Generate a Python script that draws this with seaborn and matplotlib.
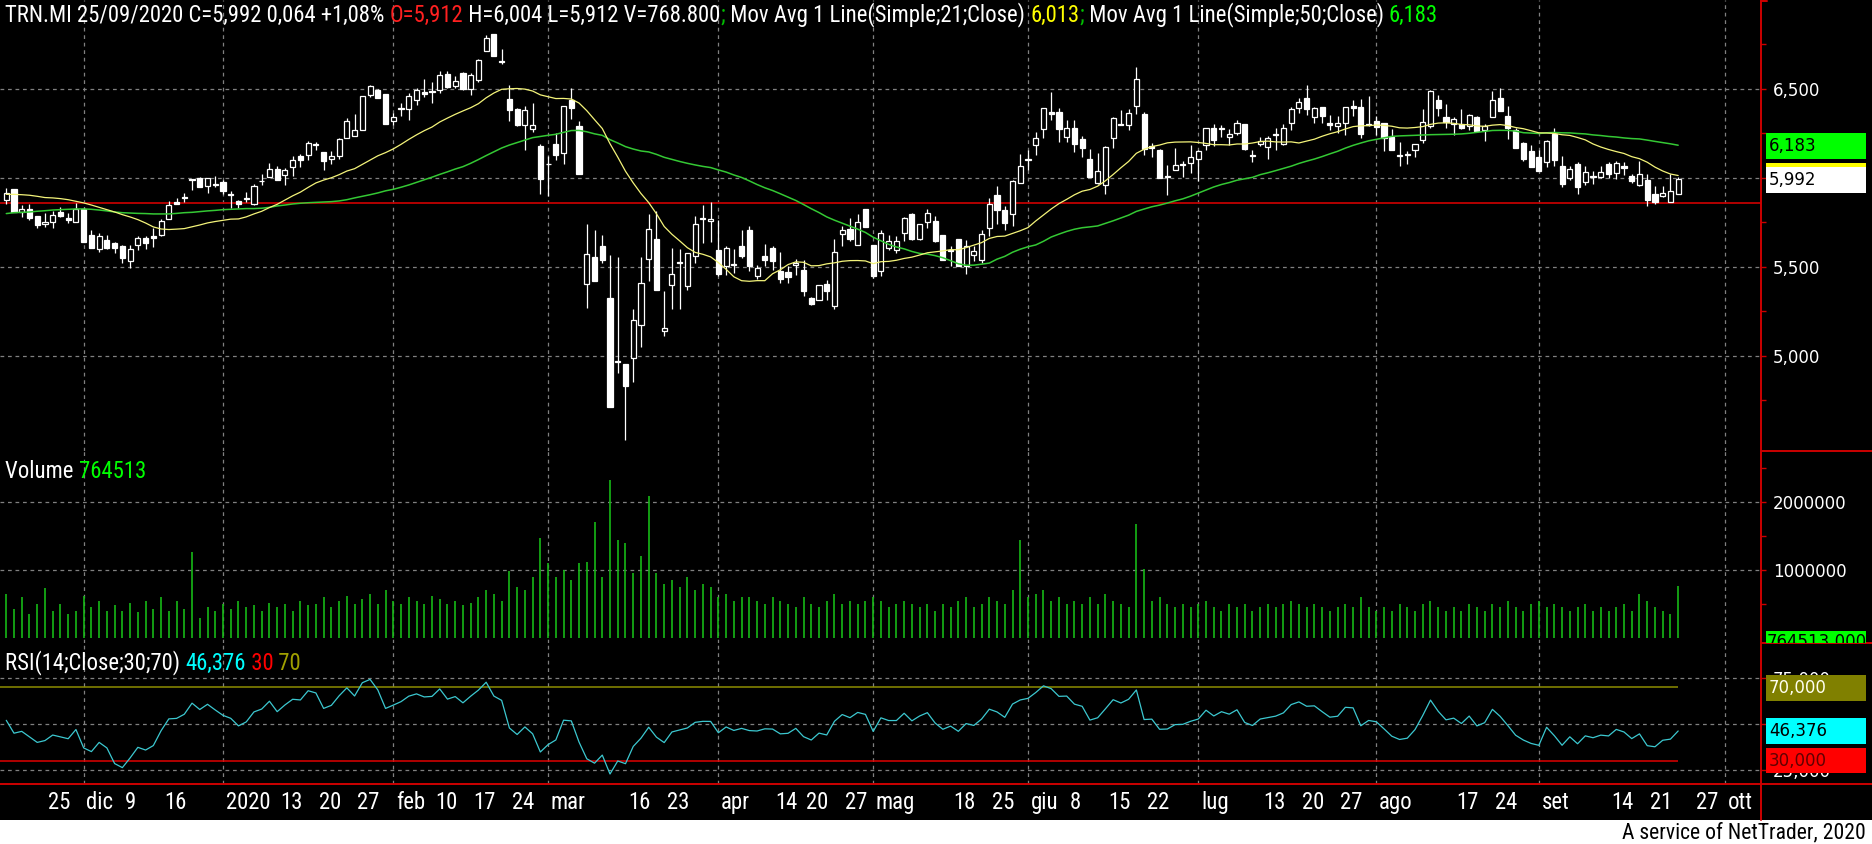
import numpy as np
import pandas as pd
import matplotlib
matplotlib.use("Agg")
import matplotlib.pyplot as plt
import seaborn as sns
from matplotlib.patches import Rectangle
from matplotlib.lines import Line2D
from matplotlib import font_manager as fm

sns.set_theme(style="dark")


def pick(fams):
    for f in fams:
        try:
            fm.findfont(fm.FontProperties(family=f), fallback_to_default=False)
            return f
        except Exception:
            continue
    return "DejaVu Sans"


NARROW = pick(["Liberation Sans Narrow", "Roboto Condensed", "DejaVu Sans"])
plt.rcParams["font.family"] = [NARROW, "DejaVu Sans"]
plt.rcParams["axes.unicode_minus"] = False

# ---------------- data ----------------
opens = [
    5.878, 5.938, 5.807, 5.826, 5.788, 5.740, 5.753, 5.807, 5.773, 5.753,
    5.828, 5.680, 5.601, 5.654, 5.635, 5.620, 5.534, 5.624, 5.663, 5.676,
    5.682, 5.770, 5.867, 5.892, 5.994, 5.998, 5.957, 5.968, 5.978, 5.912,
    5.873, 5.888, 5.854, 5.985, 6.006, 6.051, 6.017, 6.062, 6.122, 6.129,
    6.193, 6.146, 6.107, 6.122, 6.225, 6.234, 6.268, 6.468, 6.496, 6.474,
    6.320, 6.393, 6.388, 6.436, 6.481, 6.487, 6.496, 6.586, 6.515, 6.590,
    6.500, 6.549, 6.712, 6.811, 6.659, 6.444, 6.388, 6.300, 6.275, 6.182,
    6.080, 6.193, 6.140, 6.440, 6.294, 5.404, 5.556, 5.620, 5.326, 4.970,
    4.955, 4.989, 5.176, 5.545, 5.659, 5.139, 5.397, 5.528, 5.391, 5.564,
    5.777, 5.757, 5.597, 5.504, 5.517, 5.620, 5.710, 5.451, 5.564, 5.607,
    5.476, 5.474, 5.513, 5.485, 5.326, 5.317, 5.404, 5.283, 5.687, 5.713,
    5.624, 5.826, 5.624, 5.476, 5.607, 5.597, 5.691, 5.798, 5.657, 5.755,
    5.760, 5.682, 5.597, 5.657, 5.504, 5.569, 5.537, 5.719, 5.906, 5.818,
    5.798, 5.972, 6.107, 6.184, 6.277, 6.369, 6.369, 6.230, 6.281, 6.219,
    6.107, 5.972, 5.959, 6.227, 6.300, 6.300, 6.406, 6.360, 6.182, 6.159,
    6.009, 6.047, 6.080, 6.084, 6.107, 6.187, 6.281, 6.281, 6.230, 6.253,
    6.303, 6.131, 6.193, 6.174, 6.247, 6.193, 6.309, 6.393, 6.449, 6.341,
    6.399, 6.309, 6.294, 6.309, 6.403, 6.399, 6.305, 6.318, 6.309, 6.230,
    6.129, 6.137, 6.159, 6.215, 6.290, 6.440, 6.343, 6.305, 6.305, 6.294,
    6.343, 6.272, 6.343, 6.449, 6.350, 6.268, 6.197, 6.154, 6.118, 6.088,
    6.249, 6.066, 6.000, 6.081, 5.976, 6.013, 6.006, 6.081, 6.028, 6.069,
    6.013, 5.963, 5.987, 5.912, 5.897, 5.865, 5.912,
]
highs = [
    5.944, 5.938, 5.850, 5.856, 5.788, 5.803, 5.813, 5.837, 5.803, 5.860,
    5.837, 5.706, 5.691, 5.682, 5.639, 5.624, 5.625, 5.676, 5.676, 5.719,
    5.772, 5.873, 5.888, 5.916, 5.994, 6.006, 5.998, 6.009, 5.991, 5.925,
    5.878, 5.920, 5.966, 6.024, 6.084, 6.066, 6.056, 6.125, 6.133, 6.208,
    6.204, 6.146, 6.150, 6.225, 6.337, 6.361, 6.459, 6.524, 6.500, 6.474,
    6.365, 6.421, 6.478, 6.506, 6.556, 6.537, 6.599, 6.599, 6.571, 6.594,
    6.590, 6.669, 6.805, 6.811, 6.725, 6.524, 6.393, 6.406, 6.421, 6.193,
    6.125, 6.253, 6.403, 6.506, 6.318, 5.743, 5.706, 5.682, 5.569, 5.556,
    4.955, 5.264, 5.556, 5.800, 5.813, 5.363, 5.607, 5.601, 5.579, 5.788,
    5.850, 5.864, 5.762, 5.616, 5.601, 5.710, 5.732, 5.513, 5.631, 5.616,
    5.582, 5.504, 5.545, 5.541, 5.332, 5.401, 5.429, 5.657, 5.728, 5.775,
    5.800, 5.826, 5.624, 5.710, 5.682, 5.672, 5.781, 5.803, 5.743, 5.826,
    5.785, 5.682, 5.616, 5.657, 5.650, 5.616, 5.710, 5.888, 5.953, 5.841,
    5.991, 6.137, 6.155, 6.257, 6.391, 6.481, 6.393, 6.328, 6.328, 6.234,
    6.163, 6.140, 6.182, 6.343, 6.380, 6.388, 6.624, 6.373, 6.197, 6.163,
    6.075, 6.169, 6.094, 6.187, 6.159, 6.281, 6.305, 6.300, 6.275, 6.324,
    6.303, 6.159, 6.230, 6.238, 6.281, 6.305, 6.399, 6.449, 6.524, 6.399,
    6.399, 6.356, 6.350, 6.399, 6.436, 6.444, 6.459, 6.350, 6.309, 6.275,
    6.200, 6.154, 6.193, 6.388, 6.493, 6.468, 6.418, 6.343, 6.388, 6.361,
    6.346, 6.305, 6.487, 6.506, 6.406, 6.281, 6.204, 6.187, 6.159, 6.212,
    6.281, 6.122, 6.066, 6.088, 6.066, 6.037, 6.066, 6.088, 6.094, 6.088,
    6.024, 6.094, 6.024, 5.957, 5.957, 6.024, 6.004,
]
lows = [
    5.856, 5.807, 5.781, 5.766, 5.719, 5.725, 5.719, 5.781, 5.747, 5.753,
    5.639, 5.605, 5.582, 5.601, 5.579, 5.522, 5.494, 5.597, 5.601, 5.611,
    5.676, 5.770, 5.854, 5.864, 5.931, 5.948, 5.916, 5.948, 5.912, 5.831,
    5.831, 5.864, 5.848, 5.963, 6.006, 5.987, 5.961, 6.013, 6.060, 6.099,
    6.159, 6.047, 6.080, 6.107, 6.225, 6.234, 6.268, 6.455, 6.448, 6.301,
    6.300, 6.350, 6.324, 6.412, 6.455, 6.421, 6.478, 6.506, 6.506, 6.496,
    6.468, 6.541, 6.712, 6.687, 6.640, 6.318, 6.294, 6.159, 6.257, 5.912,
    5.897, 6.103, 6.080, 6.331, 6.022, 5.270, 5.419, 5.522, 4.713, 4.904,
    4.530, 4.852, 5.051, 5.419, 5.369, 5.110, 5.264, 5.264, 5.369, 5.522,
    5.635, 5.639, 5.448, 5.457, 5.466, 5.551, 5.476, 5.433, 5.504, 5.485,
    5.410, 5.410, 5.457, 5.339, 5.288, 5.313, 5.317, 5.264, 5.616, 5.644,
    5.624, 5.725, 5.438, 5.448, 5.597, 5.579, 5.644, 5.654, 5.654, 5.719,
    5.639, 5.537, 5.504, 5.504, 5.463, 5.532, 5.522, 5.676, 5.743, 5.706,
    5.732, 5.972, 6.047, 6.131, 6.225, 6.328, 6.200, 6.200, 6.144, 6.118,
    6.004, 5.968, 5.912, 6.169, 6.298, 6.272, 6.361, 6.131, 6.118, 6.000,
    5.906, 6.047, 6.004, 6.028, 5.981, 6.159, 6.182, 6.230, 6.187, 6.243,
    6.159, 6.088, 6.178, 6.107, 6.159, 6.185, 6.268, 6.365, 6.356, 6.309,
    6.309, 6.272, 6.253, 6.243, 6.350, 6.225, 6.294, 6.243, 6.150, 6.155,
    6.066, 6.079, 6.118, 6.197, 6.281, 6.350, 6.281, 6.243, 6.275, 6.268,
    6.257, 6.206, 6.343, 6.375, 6.219, 6.169, 6.094, 6.062, 6.037, 6.062,
    6.069, 5.949, 5.987, 5.912, 5.963, 5.968, 6.000, 6.000, 5.994, 6.019,
    5.972, 5.957, 5.841, 5.856, 5.893, 5.865, 5.912,
]
closes = [
    5.916, 5.807, 5.826, 5.775, 5.736, 5.755, 5.794, 5.785, 5.766, 5.828,
    5.639, 5.605, 5.672, 5.609, 5.605, 5.549, 5.601, 5.663, 5.635, 5.661,
    5.757, 5.850, 5.854, 5.888, 5.990, 5.948, 5.998, 5.961, 5.925, 5.905,
    5.852, 5.880, 5.957, 5.981, 6.051, 5.987, 6.047, 6.103, 6.099, 6.197,
    6.185, 6.094, 6.122, 6.219, 6.318, 6.268, 6.459, 6.519, 6.448, 6.301,
    6.343, 6.388, 6.463, 6.496, 6.474, 6.481, 6.581, 6.511, 6.543, 6.500,
    6.579, 6.661, 6.787, 6.687, 6.654, 6.384, 6.300, 6.384, 6.296, 5.994,
    6.077, 6.131, 6.403, 6.393, 6.022, 5.573, 5.419, 5.541, 4.713, 4.964,
    4.830, 5.204, 5.410, 5.714, 5.369, 5.157, 5.461, 5.522, 5.579, 5.743,
    5.772, 5.770, 5.461, 5.607, 5.511, 5.560, 5.504, 5.494, 5.537, 5.532,
    5.433, 5.442, 5.522, 5.363, 5.294, 5.397, 5.363, 5.582, 5.706, 5.657,
    5.753, 5.725, 5.448, 5.691, 5.644, 5.644, 5.775, 5.657, 5.743, 5.803,
    5.646, 5.541, 5.590, 5.504, 5.620, 5.592, 5.687, 5.854, 5.818, 5.747,
    5.981, 6.066, 6.099, 6.225, 6.391, 6.360, 6.275, 6.281, 6.193, 6.169,
    6.004, 6.037, 6.172, 6.335, 6.298, 6.365, 6.556, 6.163, 6.170, 6.000,
    6.004, 6.071, 6.075, 6.118, 6.150, 6.281, 6.212, 6.275, 6.247, 6.309,
    6.163, 6.125, 6.206, 6.225, 6.242, 6.281, 6.388, 6.425, 6.388, 6.393,
    6.346, 6.300, 6.309, 6.399, 6.395, 6.249, 6.298, 6.287, 6.225, 6.155,
    6.122, 6.131, 6.193, 6.313, 6.487, 6.393, 6.313, 6.331, 6.281, 6.356,
    6.262, 6.294, 6.440, 6.375, 6.281, 6.169, 6.107, 6.062, 6.037, 6.206,
    6.103, 5.966, 6.052, 5.949, 6.032, 6.006, 6.032, 6.022, 6.084, 6.056,
    5.981, 6.022, 5.878, 5.863, 5.916, 5.925, 5.992,
]
volumes_m = [
    0.65, 0.42, 0.60, 0.35, 0.50, 0.74, 0.40, 0.50, 0.36, 0.40,
    0.62, 0.45, 0.55, 0.40, 0.48, 0.40, 0.52, 0.38, 0.55, 0.42,
    0.60, 0.40, 0.55, 0.42, 1.26, 0.30, 0.45, 0.40, 0.50, 0.42,
    0.55, 0.45, 0.48, 0.40, 0.52, 0.45, 0.50, 0.40, 0.55, 0.48,
    0.50, 0.60, 0.45, 0.55, 0.62, 0.50, 0.58, 0.65, 0.50, 0.70,
    0.55, 0.50, 0.60, 0.55, 0.50, 0.62, 0.58, 0.50, 0.55, 0.48,
    0.52, 0.60, 0.70, 0.65, 0.55, 0.98, 0.75, 0.70, 0.90, 1.47,
    1.10, 0.90, 1.00, 0.85, 1.10, 1.12, 1.70, 0.90, 2.33, 1.44,
    1.39, 0.95, 1.20, 2.09, 0.95, 0.80, 0.85, 0.75, 0.90, 0.70,
    0.80, 0.75, 0.60, 0.65, 0.55, 0.60, 0.60, 0.55, 0.50, 0.60,
    0.55, 0.50, 0.45, 0.60, 0.50, 0.45, 0.55, 0.65, 0.50, 0.55,
    0.50, 0.55, 0.60, 0.55, 0.45, 0.50, 0.55, 0.50, 0.45, 0.50,
    0.40, 0.50, 0.45, 0.55, 0.60, 0.45, 0.50, 0.60, 0.55, 0.50,
    0.70, 1.44, 0.60, 0.65, 0.70, 0.55, 0.60, 0.50, 0.55, 0.50,
    0.60, 0.50, 0.65, 0.55, 0.50, 0.45, 1.68, 1.02, 0.55, 0.60,
    0.50, 0.45, 0.50, 0.45, 0.50, 0.55, 0.45, 0.40, 0.50, 0.45,
    0.50, 0.40, 0.45, 0.50, 0.45, 0.50, 0.55, 0.50, 0.45, 0.50,
    0.45, 0.40, 0.45, 0.50, 0.45, 0.60, 0.45, 0.40, 0.45, 0.40,
    0.50, 0.45, 0.40, 0.50, 0.55, 0.45, 0.40, 0.45, 0.40, 0.50,
    0.45, 0.40, 0.50, 0.45, 0.55, 0.45, 0.40, 0.50, 0.55, 0.45,
    0.50, 0.45, 0.40, 0.45, 0.50, 0.40, 0.45, 0.40, 0.45, 0.50,
    0.40, 0.65, 0.55, 0.45, 0.40, 0.35, 0.764513,
]
# moving averages / RSI before their look-back windows are full
ma21_head = [5.908, 5.908, 5.906, 5.903, 5.897, 5.890, 5.888, 5.884, 5.878, 5.869,
             5.860, 5.848, 5.835, 5.822, 5.809, 5.794, 5.781, 5.766, 5.747, 5.725]
ma50_head = [5.800, 5.805, 5.807, 5.809, 5.813, 5.816, 5.820, 5.822, 5.824, 5.826,
             5.826, 5.824, 5.820, 5.815, 5.809, 5.805, 5.803, 5.801, 5.800, 5.798,
             5.798, 5.798, 5.801, 5.805, 5.807, 5.811, 5.815, 5.818, 5.822, 5.824,
             5.826, 5.828, 5.828, 5.830, 5.835, 5.843, 5.848, 5.854, 5.858, 5.861,
             5.863, 5.865, 5.867, 5.871, 5.878, 5.888, 5.897, 5.906, 5.916]
rsi_head = [52, 45, 46, 43, 40, 41, 44, 43, 42, 47, 37, 35, 40, 37]
support_level = 5.861

tick_labels = ["25", "dic", "9", "16", "2020", "13", "20", "27", "feb", "10", "17", "24",
               "mar", "16", "23", "apr", "14", "20", "27", "mag", "18", "25", "giu", "8",
               "15", "22", "lug", "13", "20", "27", "ago", "17", "24", "set", "14", "21",
               "27", "ott"]
tick_pos = [5, 10, 15, 20, 28, 35, 40, 45, 50, 55, 60, 65, 70, 80, 85, 92, 99, 103, 108,
            112, 122, 127, 132, 137, 142, 147, 154, 162, 167, 172, 177, 187, 192, 198,
            207, 212, 218, 222]
month_labels = {"dic", "2020", "feb", "mar", "apr", "mag", "giu", "lug", "ago", "set", "ott"}

price_ticks = [5.0, 5.5, 6.0, 6.5]
price_tick_text = ["5,000", "5,500", "", "6,500"]   # 6,000 is hidden by the value boxes
volume_ticks = [1000000, 2000000]
rsi_ticks = [25, 50, 75]

# ---------------- derived series ----------------
n = len(closes)
O = np.array(opens); Hh = np.array(highs); L = np.array(lows); C = np.array(closes)
V = np.array(volumes_m) * 1e6
xs = np.arange(n)

cs = pd.Series(C)
ma21 = cs.rolling(21).mean().to_numpy()
ma21[:20] = ma21_head
ma50 = cs.rolling(50).mean().to_numpy()
ma50[:49] = ma50_head

d = np.diff(C)
g = np.clip(d, 0, None)
lo = np.clip(-d, 0, None)
p = 14
rsi = np.full(n, np.nan)
rsi[:p] = rsi_head
ag = g[:p].mean(); al = lo[:p].mean()
rsi[p] = 100 - 100 / (1 + ag / al)
for t in range(p + 1, n):
    ag = (ag * (p - 1) + g[t - 1]) / p
    al = (al * (p - 1) + lo[t - 1]) / p
    rsi[t] = 100 - 100 / (1 + ag / al)

df = pd.DataFrame({"x": xs, "ma21": ma21, "ma50": ma50, "rsi": rsi})

# ---------------- figure ----------------
W, H = 1872, 844
RED = "#cc0000"
GRID = "#808080"
fig = plt.figure(figsize=(W / 100, H / 100), dpi=100, facecolor="black")


def rect(y0, y1):
    return [0, 1 - y1 / H, 1761 / W, (y1 - y0) / H]


ax_p = fig.add_axes(rect(0, 451))
ax_v = fig.add_axes(rect(451, 643), sharex=ax_p)
ax_r = fig.add_axes(rect(643, 784), sharex=ax_p)

XMIN, XMAX = -0.81, 226.7
for ax in (ax_p, ax_v, ax_r):
    ax.set_facecolor("black")
    for s in ax.spines.values():
        s.set_visible(False)
    ax.grid(False)
    for m, lab in zip(tick_pos, tick_labels):
        if lab in month_labels:
            ax.axvline(m, color=GRID, lw=0.9, ls=(0, (3, 3)), zorder=1)
ax_p.set_xlim(XMIN, XMAX)
ax_p.set_ylim(4.466, 7.0)
ax_v.set_ylim(-0.0735e6, 2.75e6)
ax_r.set_ylim(17.4, 94.0)

for v in price_ticks:
    ax_p.axhline(v, color=GRID, lw=0.9, ls=(0, (3, 3)), zorder=1)
for v in volume_ticks:
    ax_v.axhline(v, color=GRID, lw=0.9, ls=(0, (3, 3)), zorder=1)
for v in rsi_ticks:
    ax_r.axhline(v, color=GRID, lw=0.9, ls=(0, (3, 3)), zorder=1)

# support line
ax_p.axhline(support_level, color="#c00000", lw=1.3, zorder=2)

# candles
up = C >= O
ax_p.vlines(xs, L, Hh, color="white", lw=0.9, zorder=3)
blo = np.minimum(O, C)
bh = np.maximum(np.abs(C - O), 0.004)
ax_p.bar(xs[up], bh[up], bottom=blo[up], width=0.66, facecolor="black",
         edgecolor="white", linewidth=0.9, zorder=4)
ax_p.bar(xs[~up], bh[~up], bottom=blo[~up], width=0.66, facecolor="white",
         edgecolor="white", linewidth=0.9, zorder=4)

sns.lineplot(data=df, x="x", y="ma50", ax=ax_p, color="#34c834", lw=1.1, zorder=5, legend=False)
sns.lineplot(data=df, x="x", y="ma21", ax=ax_p, color="#f4f47a", lw=0.9, zorder=6, legend=False)

# volume
ax_v.vlines(xs, 0, V, color="#16b816", lw=1.2, zorder=3)

# RSI
ax_r.hlines(70, XMIN, n - 1, color="#8c8c00", lw=1.1, zorder=2)
ax_r.hlines(30, XMIN, n - 1, color="#e00000", lw=1.1, zorder=2)
sns.lineplot(data=df, x="x", y="rsi", ax=ax_r, color="#3cc8d0", lw=0.9, zorder=4, legend=False)

for ax in (ax_p, ax_v, ax_r):
    ax.set_xlabel("")
    ax.set_ylabel("")
    ax.yaxis.tick_right()
    ax.tick_params(axis="y", which="both", direction="out", length=3.6, width=1,
                   color=RED, labelcolor="white", labelsize=12, pad=5,
                   labelfontfamily="DejaVu Sans")

ax_p.set_yticks(price_ticks)
ax_p.set_yticklabels(price_tick_text)
ax_p.set_yticks([4.75, 5.25, 5.75, 6.25, 6.75, 7.0], minor=True)
ax_v.set_yticks(volume_ticks)
ax_v.set_yticklabels([str(v) for v in volume_ticks])
ax_v.set_yticks([500000, 1500000, 2500000], minor=True)
ax_r.set_yticks(rsi_ticks)
ax_r.set_yticklabels([f"{v:.3f}".replace(".", ",") for v in rsi_ticks])

month_pos = [p_ for p_, l_ in zip(tick_pos, tick_labels) if l_ in month_labels]
day_pos = [p_ for p_, l_ in zip(tick_pos, tick_labels) if l_ not in month_labels]
ax_r.set_xticks(month_pos)
ax_r.set_xticks(day_pos, minor=True)
ax_r.tick_params(axis="x", which="major", direction="out", length=6.5, width=1, color=RED,
                 labelbottom=False)
ax_r.tick_params(axis="x", which="minor", direction="out", length=3, width=1, color=RED,
                 labelbottom=False)
for ax in (ax_p, ax_v):
    ax.tick_params(axis="x", which="both", bottom=False, labelbottom=False)

# ---------------- frame lines ----------------
def fline(x0, y0, x1, y1, color=RED, lw=1.4):
    fig.add_artist(Line2D([x0 / W, x1 / W], [1 - y0 / H, 1 - y1 / H],
                          transform=fig.transFigure, color=color, lw=lw))


fline(1761, 0, 1761, 820)
fline(1761, 451, W, 451)
fline(1761, 643, W, 643)
fline(0, 784, W, 784)
fline(1761, 1, 1767, 1)

# white strip at bottom
fig.patches.append(Rectangle((0, 0), 1, 24 / H, transform=fig.transFigure,
                             facecolor="white", edgecolor="none", zorder=0))

renderer = fig.canvas.get_renderer()


def text_width(s, size):
    t = fig.text(0, 0, s + "|", fontsize=size, family=[NARROW, "DejaVu Sans"])
    t2 = fig.text(0, 0, "|", fontsize=size, family=[NARROW, "DejaVu Sans"])
    w = t.get_window_extent(renderer=renderer).width - t2.get_window_extent(renderer=renderer).width
    t.remove(); t2.remove()
    return w


def segments(segs, x_px, y_px, size):
    full = ""
    for txt, col in segs:
        xx = x_px + (text_width(full, size) if full else 0)
        fig.text(xx / W, 1 - y_px / H, txt, color=col, fontsize=size, ha="left",
                 va="center", family=[NARROW, "DejaVu Sans"])
        full += txt


header = [
    ("TRN.MI 25/09/2020 C=5,992 0,064 +1,08% ", "white"),
    ("O=5,912", "#ff2020"),
    (" H=6,004 L=5,912 V=768.800", "white"),
    (";", "#00c000"),
    (" Mov Avg 1 Line(Simple;21;Close) ", "white"),
    ("6,013", "#ffff00"),
    (";", "#00c000"),
    (" Mov Avg 1 Line(Simple;50;Close) ", "white"),
    ("6,183", "#00ff00"),
]
base = 15.0
wfull = text_width("".join(s for s, _ in header), base)
FS = base * 1440.0 / wfull
segments(header, 5, 15, FS)
segments([("Volume ", "white"), ("764513", "#00ff00")], 5, 472, FS)
segments([("RSI(14;Close;30;70) ", "white"), ("46,376", "#00ffff"),
          (" 30", "#ff0000"), (" 70", "#a0a000")], 5, 663, FS)

for pos, lab in zip(tick_pos, tick_labels):
    ax_r.annotate(lab, xy=(pos, 0), xycoords=("data", "axes fraction"),
                  xytext=(2, -13), textcoords="offset points", ha="left", va="center",
                  color="white", fontsize=FS, family=[NARROW, "DejaVu Sans"],
                  annotation_clip=False)

fig.text(1866 / W, 1 - 833 / H, "A service of NetTrader, 2020", ha="right", va="center",
         color="black", fontsize=FS * 0.95, family=[NARROW, "DejaVu Sans"])


# ---------------- value boxes on the right axis ----------------
def box(y0, y1, face, txt=None, tcol="black"):
    r = Rectangle((1766 / W, 1 - y1 / H), 100 / W, (y1 - y0) / H, transform=fig.transFigure,
                  facecolor=face, edgecolor="none", zorder=5)
    fig.patches.append(r)
    if txt:
        fig.text(1769 / W, 1 - (y0 + y1) / 2 / H, txt, color=tcol, fontsize=12,
                 ha="left", va="center", family="DejaVu Sans", zorder=6)


box(133, 159, "#00ff00", "6,183", "black")
box(163, 189, "#ffff00")            # MA21 marker, covered by the close box
box(167, 193, "white", "5,992", "black")
vb = Rectangle((1766 / W, 1 - 643 / H), 100 / W, 12 / H, transform=fig.transFigure,
               facecolor="#00ff00", edgecolor="none", zorder=5)
fig.patches.append(vb)
tv = fig.text(1767 / W, 1 - 642 / H, "764513,000", color="black", fontsize=12, ha="left",
              va="center", family="DejaVu Sans", zorder=6)
tv.set_clip_path(vb)
box(675, 701, "#808000", "70,000", "#fffff0")
box(718, 744, "#00ffff", "46,376", "black")
box(748, 773, "#ff0000", "30,000", "#600000")

fig.savefig("out.png", dpi=100, facecolor="black")
